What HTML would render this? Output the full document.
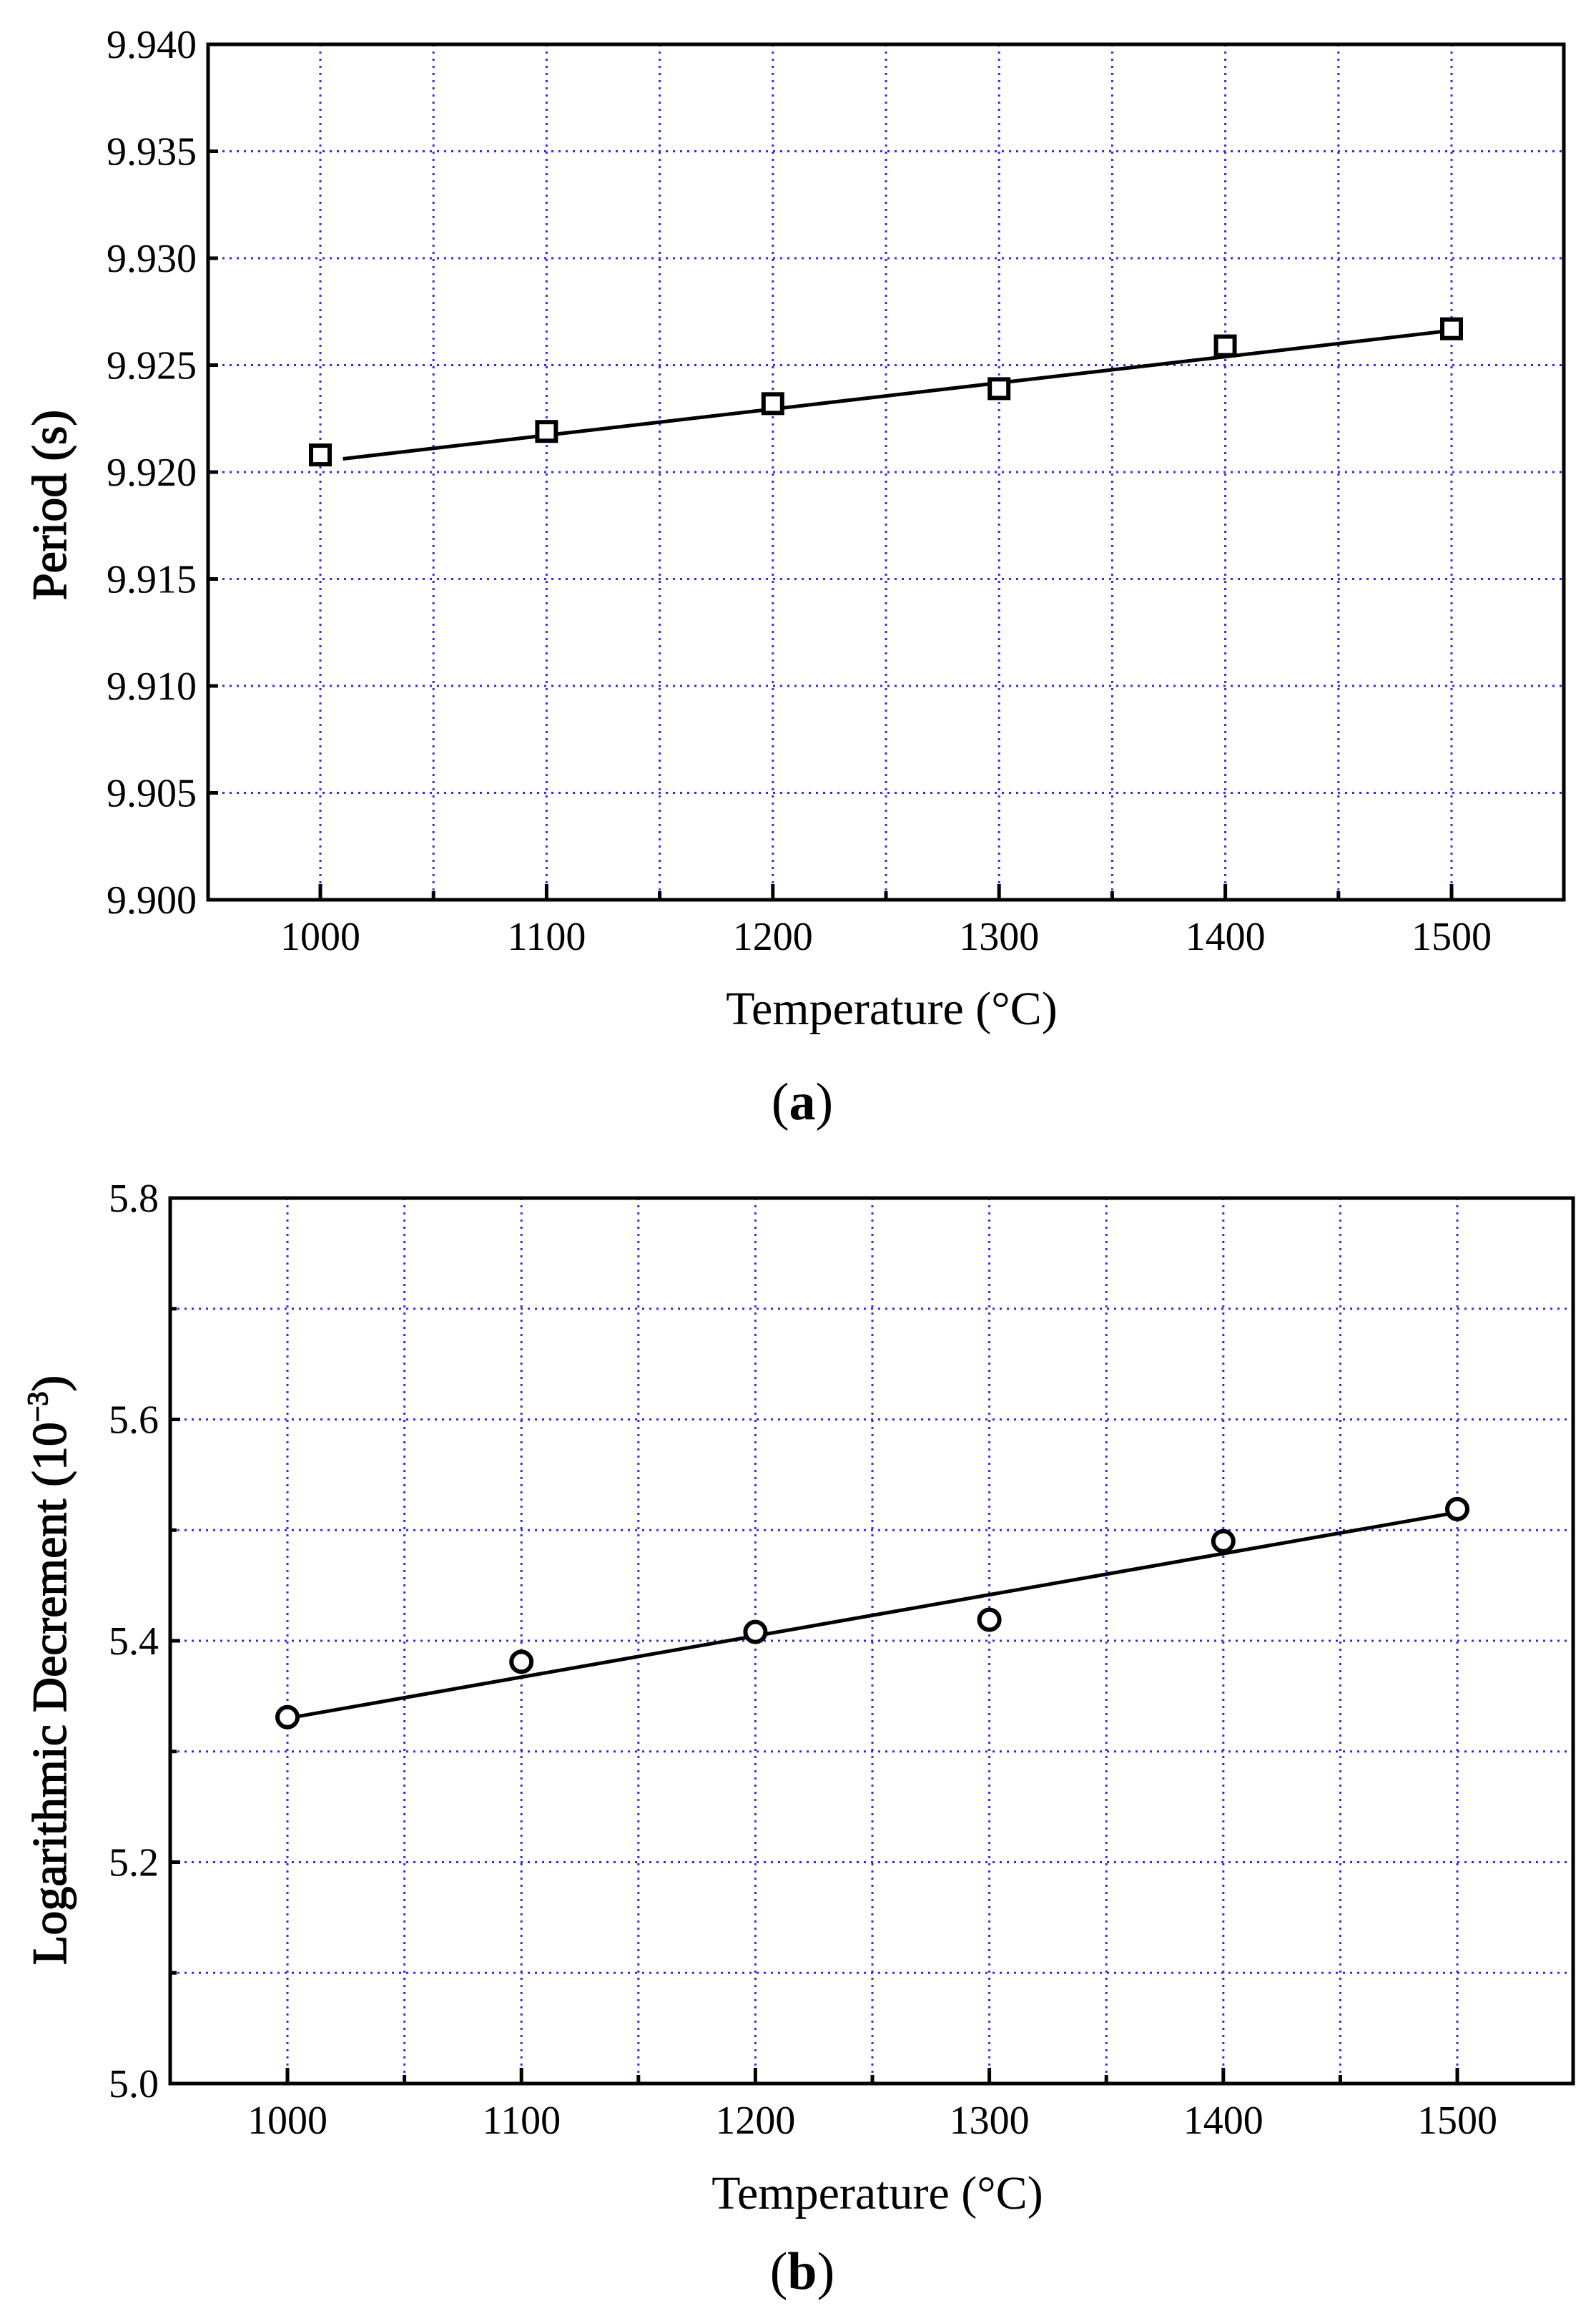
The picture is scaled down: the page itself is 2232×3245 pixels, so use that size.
<!DOCTYPE html>
<html><head><meta charset="utf-8"><style>
html,body{margin:0;padding:0;background:#fff;}
svg{display:block;font-family:"Liberation Serif",serif;}
</style></head><body>
<svg id="fig" width="2232" height="3245" viewBox="0 0 2232 3245">
<rect width="2232" height="3245" fill="#fff"/>
</svg>
<script>
const NS="http://www.w3.org/2000/svg";
const svg=document.getElementById('fig');
// Panel (a) data
const tempsA=[1000,1100,1200,1300,1400,1500];
const periodA=[9.9208,9.9219,9.9232,9.9239,9.9259,9.9267];
const fitA=[[1010,9.92062],[1500,9.92662]];
const yTicksA=[9.900,9.905,9.910,9.915,9.920,9.925,9.930,9.935,9.940];
const yTickLabelsA=["9.900","9.905","9.910","9.915","9.920","9.925","9.930","9.935","9.940"];
// Panel (b) data
const tempsB=[1000,1100,1200,1300,1400,1500];
const decB=[5.331,5.381,5.408,5.419,5.490,5.519];
const fitB=[[1000,5.330],[1500,5.516]];
const yTicksB=[5.0,5.2,5.4,5.6,5.8];
const yTickLabelsB=["5.0","5.2","5.4","5.6","5.8"];
const yMinorB=[5.1,5.3,5.5,5.7];
const xTicks=[1000,1100,1200,1300,1400,1500];
const xTickLabels=["1000","1100","1200","1300","1400","1500"];
const xMinor=[1050,1150,1250,1350,1450];

function el(tag,attrs,parent){const e=document.createElementNS(NS,tag);for(const k in attrs)e.setAttribute(k,attrs[k]);(parent||svg).appendChild(e);return e;}

function panel(cfg){
  const g=el('g',{});
  
  
  const X=v=>cfg.x0+(v-1000)*(cfg.x1-cfg.x0)/500;
  const Y=v=>cfg.yb-(v-cfg.ymin)*(cfg.yb-cfg.yt)/(cfg.ymax-cfg.ymin);
  const gridV=xTicks.concat(xMinor);
  gridV.forEach(v=>{const l=el('line',{x1:X(v),x2:X(v),y1:cfg.yt,y2:cfg.yb,stroke:'#2a2aff','stroke-width':3,'stroke-dasharray':'3 7'},g);
    });
  cfg.gridY.forEach(v=>{const l=el('line',{x1:cfg.xl,x2:cfg.xr,y1:Y(v),y2:Y(v),stroke:'#2a2aff','stroke-width':3,'stroke-dasharray':'3 7'},g);
    });
  const fr=el('rect',{x:cfg.xl,y:cfg.yt,width:cfg.xr-cfg.xl,height:cfg.yb-cfg.yt,fill:'none',stroke:'#000','stroke-width':5},g);
  
  xTicks.forEach((v,i)=>{el('line',{x1:X(v),x2:X(v),y1:cfg.yb,y2:cfg.yb-22,stroke:'#000','stroke-width':5},g);
    const t=el('text',{x:X(v),y:cfg.yb+70,'font-size':56,'text-anchor':'middle'},g);t.textContent=xTickLabels[i];
    });
  xMinor.forEach(v=>el('line',{x1:X(v),x2:X(v),y1:cfg.yb,y2:cfg.yb-12,stroke:'#000','stroke-width':5},g));
  cfg.yTicks.forEach((v,i)=>{el('line',{x1:cfg.xl,x2:cfg.xl+14,y1:Y(v),y2:Y(v),stroke:'#000','stroke-width':5},g);
    const t=el('text',{x:cfg.xl-16,y:Y(v)+19,'font-size':56,'text-anchor':'end'},g);t.textContent=cfg.yLabels[i];
    });
  (cfg.yMinor||[]).forEach(v=>el('line',{x1:cfg.xl,x2:cfg.xl+9,y1:Y(v),y2:Y(v),stroke:'#000','stroke-width':5},g));
  const fl=el('line',{x1:X(cfg.fit[0][0]),y1:Y(cfg.fit[0][1]),x2:X(cfg.fit[1][0]),y2:Y(cfg.fit[1][1]),stroke:'#000','stroke-width':5},g);
  
  cfg.xs.forEach((xv,i)=>{let m;
    if(cfg.marker==='square') m=el('rect',{x:X(xv)-13,y:Y(cfg.ys[i])-13,width:26,height:26,fill:'#fff',stroke:'#000','stroke-width':6},g);
    else m=el('circle',{cx:X(xv),cy:Y(cfg.ys[i]),r:14,fill:'#fff',stroke:'#000','stroke-width':6},g);
    });
  const xt=el('text',{x:(cfg.xl+cfg.xr)/2+8,y:cfg.xtitleY,'font-size':66,'text-anchor':'middle'},g);
  xt.textContent='Temperature (°C)';
  const yt=el('text',{transform:`translate(92,${cfg.ytitleY}) rotate(-90)`,'font-size':68,'text-anchor':'middle',stroke:'#000','stroke-width':1.5},g);
  yt.innerHTML=cfg.ytitle;
  const cap=el('text',{x:1122,y:cfg.capY,'font-size':74,'text-anchor':'middle'},g);
  cap.innerHTML=cfg.cap;
}
panel({name:'panel-a-period',xl:291,xr:2187,yt:62,yb:1258,x0:448,x1:2030,ymin:9.900,ymax:9.940,
  gridY:yTicksA.slice(1,-1),yTicks:yTicksA,yLabels:yTickLabelsA,fit:fitA,xs:tempsA,ys:periodA,marker:'square',
  xtitleY:1432,ytitleY:706,ytitle:'Period (s)',capY:1565,cap:'(<tspan font-weight="bold">a</tspan>)'});
panel({name:'panel-b-log-decrement',xl:238,xr:2200,yt:1675,yb:2913,x0:402,x1:2038,ymin:5.0,ymax:5.8,
  gridY:yTicksB.slice(1,-1).concat(yMinorB),yTicks:yTicksB,yLabels:yTickLabelsB,yMinor:yMinorB,fit:fitB,xs:tempsB,ys:decB,marker:'circle',
  xtitleY:3088,ytitleY:2335,ytitle:'Logarithmic Decrement (10<tspan font-size="40" dy="-26">−3</tspan><tspan dy="26">)</tspan>',capY:3200,cap:'(<tspan font-weight="bold">b</tspan>)'});
</script>
</body></html>
